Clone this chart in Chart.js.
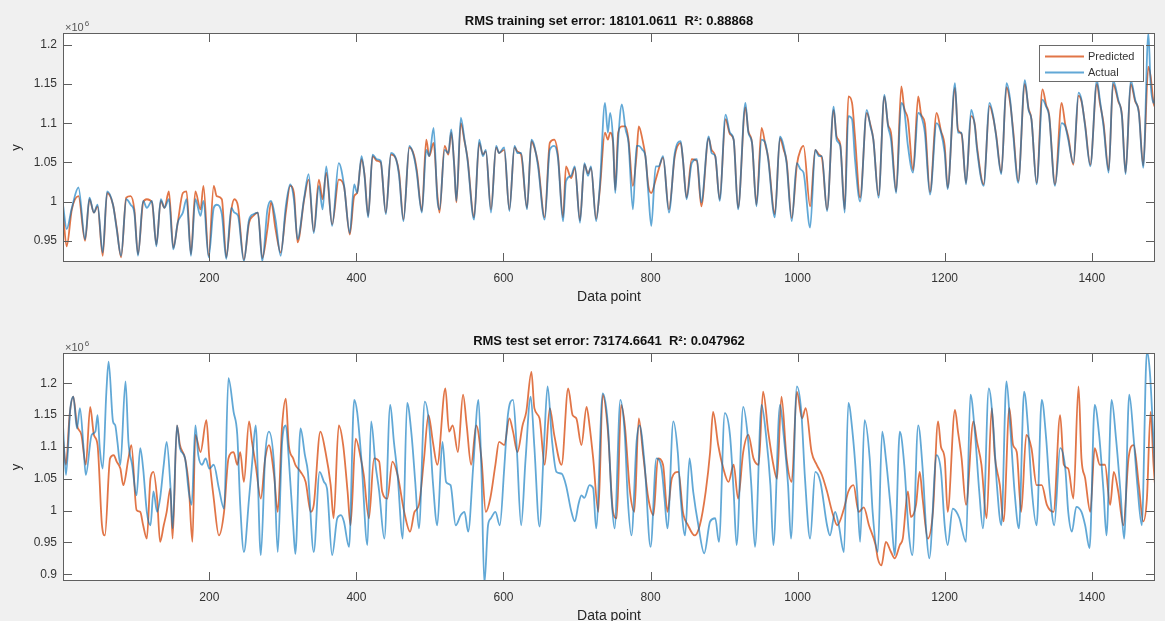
<!DOCTYPE html>
<html>
<head>
<meta charset="utf-8">
<script src="https://cdn.jsdelivr.net/npm/chart.js@4.4.1/dist/chart.umd.min.js"></script>
<style>
  html, body { margin: 0; padding: 0; }
  body { width: 1165px; height: 621px; overflow: hidden; position: relative; background: #f0f0f0; }
  canvas { position: absolute; left: 0; }
</style>
</head>
<body>
<canvas id="trainChart" width="1165" height="310" style="top:0"></canvas>
<canvas id="testChart" width="1165" height="319" style="top:310px"></canvas>
<script>
// values are in units of 10^6
const xTicks = [200, 400, 600, 800, 1000, 1200, 1400];
const trainYTicks = [0.95, 1, 1.05, 1.1, 1.15, 1.2];
const testYTicks = [0.9, 0.95, 1, 1.05, 1.1, 1.15, 1.2];

const trainX = [
  1, 6, 13, 22, 31, 37, 43, 48, 55, 61,
  69, 74, 80, 87, 93, 98, 103, 110, 115, 122,
  128, 134, 139, 145, 151, 157, 164, 169, 175, 181,
  188, 192, 199, 206, 210, 217, 223, 230, 234, 239,
  247, 254, 260, 266, 272, 279, 284, 290, 297, 304,
  310, 315, 320, 329, 335, 342, 349, 354, 359, 367,
  376, 383, 391, 397, 401, 407, 411, 416, 422, 428,
  433, 440, 447, 454, 458, 464, 472, 478, 482, 489,
  495, 499, 505, 510, 513, 520, 525, 529, 533, 536,
  542, 547, 551, 560, 567, 572, 576, 583, 590, 594,
  601, 608, 615, 619, 624, 632, 638, 642, 647, 656,
  663, 669, 674, 681, 685, 692, 697, 704, 710, 715,
  719, 726, 731, 738, 742, 745, 749, 752, 756, 761,
  766, 770, 776, 781, 784, 789, 793, 797, 801, 807,
  811, 817, 825, 833, 841, 844, 849, 856, 863, 869,
  879, 883, 888, 894, 902, 908, 913, 919, 929, 933,
  938, 944, 951, 956, 960, 969, 976, 981, 985, 992,
  999, 1004, 1008, 1017, 1024, 1029, 1033, 1040, 1049, 1053,
  1058, 1064, 1069, 1074, 1078, 1085, 1094, 1099, 1103, 1110,
  1118, 1123, 1127, 1134, 1141, 1145, 1150, 1157, 1164, 1168,
  1173, 1180, 1189, 1195, 1200, 1204, 1214, 1218, 1223, 1229,
  1236, 1241, 1244, 1253, 1261, 1266, 1270, 1277, 1284, 1289,
  1293, 1300, 1309, 1314, 1318, 1325, 1333, 1338, 1342, 1350,
  1359, 1364, 1368, 1375, 1382, 1386, 1391, 1398, 1407, 1411,
  1416, 1423, 1429, 1436, 1441, 1446, 1453, 1459, 1464, 1470,
  1477, 1480, 1484, 1486
];
const trainActual = [
  0.996, 0.965, 0.992, 1.018, 0.952, 1.005, 0.986, 0.996, 0.935, 1.013,
  0.996, 0.965, 0.931, 1.003, 0.996, 0.986, 0.931, 1.001, 0.992, 1.001,
  0.943, 1.003, 0.992, 1.003, 0.939, 0.973, 0.986, 1.003, 0.931, 1.003,
  0.982, 1.001, 0.929, 0.992, 0.996, 0.984, 0.927, 0.992, 0.986, 0.982,
  0.924, 0.977, 0.984, 0.986, 0.924, 0.990, 1.001, 0.977, 0.931, 0.994,
  1.022, 1.003, 0.952, 1.005, 1.035, 0.960, 1.020, 0.990, 1.045, 0.969,
  1.049, 1.022, 0.960, 1.022, 1.011, 1.058, 1.033, 0.980, 1.060, 1.054,
  1.052, 0.984, 1.062, 1.054, 1.033, 0.975, 1.071, 1.058, 1.037, 0.986,
  1.066, 1.058, 1.094, 1.003, 0.990, 1.066, 1.062, 1.092, 1.045, 1.001,
  1.107, 1.079, 1.054, 0.977, 1.079, 1.058, 1.066, 0.986, 1.071, 1.062,
  1.069, 0.988, 1.071, 1.062, 1.062, 0.990, 1.079, 1.071, 1.045, 0.977,
  1.066, 1.071, 1.056, 0.975, 1.026, 1.033, 1.045, 0.973, 1.049, 1.033,
  1.045, 0.975, 1.020, 1.126, 1.088, 1.113, 1.079, 1.011, 1.079, 1.124,
  1.092, 1.075, 0.990, 1.071, 1.071, 1.066, 1.058, 1.011, 0.969, 1.045,
  1.045, 1.058, 0.986, 1.062, 1.077, 1.054, 1.003, 1.049, 1.054, 0.999,
  1.083, 1.062, 1.058, 1.001, 1.111, 1.088, 1.079, 0.990, 1.126, 1.088,
  1.075, 0.994, 1.079, 1.075, 1.054, 0.980, 1.083, 1.071, 1.049, 0.975,
  1.049, 1.041, 1.037, 0.967, 1.066, 1.058, 1.058, 0.988, 1.121, 1.079,
  1.071, 0.986, 1.109, 1.105, 1.054, 1.000, 1.117, 1.096, 1.079, 1.005,
  1.136, 1.096, 1.079, 1.011, 1.126, 1.117, 1.071, 1.037, 1.113, 1.109,
  1.088, 1.009, 1.100, 1.088, 1.062, 1.016, 1.151, 1.088, 1.088, 1.022,
  1.117, 1.096, 1.066, 1.020, 1.126, 1.109, 1.083, 1.035, 1.151, 1.130,
  1.088, 1.024, 1.155, 1.117, 1.105, 1.022, 1.130, 1.121, 1.109, 1.020,
  1.100, 1.096, 1.079, 1.049, 1.139, 1.130, 1.096, 1.045, 1.155, 1.130,
  1.096, 1.037, 1.155, 1.130, 1.109, 1.035, 1.155, 1.130, 1.113, 1.043,
  1.215, 1.151, 1.126, 1.135
];
const trainPredicted = [
  0.986, 0.943, 0.990, 1.007, 0.950, 1.003, 0.986, 0.994, 0.931, 1.011,
  0.996, 0.967, 0.929, 1.005, 1.007, 0.990, 0.933, 0.999, 1.003, 0.999,
  0.945, 1.001, 0.992, 1.013, 0.941, 0.973, 1.011, 1.013, 0.933, 1.013,
  0.990, 1.020, 0.931, 1.020, 1.007, 1.003, 0.929, 0.990, 1.003, 0.994,
  0.926, 0.973, 0.982, 0.986, 0.928, 0.965, 0.999, 0.965, 0.935, 0.986,
  1.020, 1.011, 0.948, 1.003, 1.028, 0.962, 1.028, 1.003, 1.037, 0.971,
  1.028, 1.020, 0.958, 1.007, 1.011, 1.054, 1.035, 0.982, 1.058, 1.052,
  1.050, 0.986, 1.060, 1.054, 1.037, 0.977, 1.069, 1.060, 1.041, 0.988,
  1.079, 1.058, 1.075, 1.010, 0.986, 1.071, 1.060, 1.088, 1.047, 0.999,
  1.100, 1.077, 1.056, 0.980, 1.075, 1.060, 1.064, 0.990, 1.069, 1.062,
  1.066, 0.990, 1.069, 1.064, 1.060, 0.992, 1.077, 1.069, 1.049, 0.980,
  1.075, 1.079, 1.060, 0.980, 1.045, 1.030, 1.043, 0.976, 1.047, 1.036,
  1.043, 0.978, 1.015, 1.088, 1.079, 1.088, 1.075, 1.015, 1.088, 1.096,
  1.096, 1.079, 1.020, 1.060, 1.096, 1.079, 1.058, 1.020, 1.011, 1.028,
  1.041, 1.056, 0.990, 1.058, 1.075, 1.054, 1.005, 1.054, 1.052, 0.994,
  1.081, 1.066, 1.058, 1.003, 1.105, 1.086, 1.079, 0.992, 1.120, 1.090,
  1.075, 0.996, 1.094, 1.073, 1.056, 0.984, 1.081, 1.066, 1.052, 0.979,
  1.047, 1.066, 1.071, 0.994, 1.066, 1.060, 1.056, 0.990, 1.117, 1.083,
  1.073, 0.990, 1.134, 1.126, 1.083, 1.005, 1.113, 1.098, 1.079, 1.008,
  1.134, 1.098, 1.088, 1.013, 1.147, 1.119, 1.105, 1.040, 1.134, 1.111,
  1.100, 1.012, 1.113, 1.090, 1.071, 1.018, 1.145, 1.092, 1.086, 1.024,
  1.109, 1.098, 1.070, 1.022, 1.122, 1.107, 1.085, 1.037, 1.146, 1.126,
  1.092, 1.026, 1.150, 1.119, 1.105, 1.024, 1.143, 1.123, 1.111, 1.022,
  1.126, 1.098, 1.083, 1.047, 1.135, 1.128, 1.098, 1.047, 1.150, 1.126,
  1.100, 1.040, 1.150, 1.128, 1.111, 1.037, 1.150, 1.128, 1.115, 1.046,
  1.172, 1.160, 1.126, 1.120
];

const testActualX = [
  1, 5, 11, 15, 20, 24, 29, 32, 40, 45,
  48, 51, 55, 60, 63, 69, 72, 75, 79, 86,
  90, 95, 101, 106, 110, 115, 120, 124, 129, 133,
  138, 142, 147, 150, 156, 160, 167, 172, 176, 181,
  185, 190, 195, 200, 206, 213, 220, 226, 233, 238,
  242, 247, 254, 258, 263, 270, 276, 281, 288, 293,
  299, 304, 308, 314, 317, 324, 330, 334, 342, 350,
  356, 360, 367, 374, 379, 383, 390, 397, 401, 407,
  415, 420, 426, 431, 438, 446, 451, 456, 463, 469,
  475, 480, 485, 493, 499, 504, 510, 517, 522, 528,
  535, 542, 547, 552, 559, 566, 570, 574, 579, 583,
  589, 595, 601, 606, 613, 618, 624, 630, 637, 642,
  649, 655, 660, 666, 672, 679, 685, 692, 697, 702,
  706, 710, 717, 722, 726, 735, 742, 747, 751, 759,
  765, 769, 774, 781, 785, 792, 800, 808, 815, 819,
  823, 831, 837, 841, 847, 853, 858, 865, 873, 881,
  888, 893, 901, 908, 913, 917, 926, 932, 937, 942,
  951, 957, 963, 967, 976, 981, 987, 991, 999, 1005,
  1010, 1017, 1024, 1031, 1040, 1044, 1051, 1056, 1063, 1069,
  1075, 1081, 1085, 1091, 1098, 1102, 1109, 1115, 1120, 1127,
  1132, 1139, 1145, 1151, 1156, 1164, 1170, 1175, 1179, 1189,
  1195, 1200, 1204, 1211, 1216, 1220, 1229, 1235, 1241, 1247,
  1252, 1260, 1266, 1271, 1277, 1284, 1289, 1295, 1301, 1308,
  1314, 1318, 1325, 1332, 1338, 1343, 1349, 1357, 1364, 1368,
  1373, 1379, 1386, 1391, 1397, 1404, 1410, 1416, 1420, 1427,
  1433, 1439, 1444, 1451, 1457, 1462, 1468, 1475, 1479, 1484,
  1486
];
const testActual = [
  1.134, 1.056, 1.161, 1.179, 1.129, 1.161, 1.098, 1.056, 1.119, 1.124,
  1.150, 1.098, 1.066, 1.187, 1.234, 1.140, 1.134, 1.108, 1.072, 1.203,
  1.108, 1.072, 1.024, 1.098, 1.066, 0.998, 0.977, 1.030, 0.998, 1.019,
  1.072, 1.108, 1.040, 0.972, 1.134, 1.098, 1.082, 1.030, 1.009, 1.134,
  1.087, 1.072, 1.082, 1.066, 1.072, 1.035, 1.003, 1.208, 1.155, 1.119,
  1.009, 0.935, 1.019, 1.072, 1.134, 0.930, 1.087, 1.124, 1.072, 0.935,
  1.108, 1.134, 1.082, 0.977, 0.932, 1.129, 1.087, 1.061, 0.935, 1.061,
  1.045, 1.035, 0.930, 0.988, 0.993, 0.983, 0.943, 1.174, 1.155, 1.077,
  0.946, 1.140, 1.072, 1.030, 0.956, 1.166, 1.108, 1.056, 0.956, 1.169,
  1.119, 1.045, 0.972, 1.171, 1.134, 1.045, 0.977, 1.108, 1.045, 1.040,
  0.977, 0.993, 0.998, 0.967, 1.072, 1.174, 1.061, 0.885, 0.977, 0.988,
  0.998, 0.977, 1.066, 1.150, 1.174, 1.100, 0.977, 1.080, 1.179, 1.100,
  0.975, 1.100, 1.195, 1.110, 1.061, 1.058, 1.040, 1.000, 0.983, 1.010,
  1.024, 1.020, 1.040, 1.035, 0.972, 1.184, 1.134, 1.019, 0.972, 1.174,
  1.119, 1.019, 0.961, 1.108, 1.134, 1.072, 0.943, 1.082, 1.066, 1.019,
  0.972, 1.140, 1.092, 1.019, 0.961, 1.082, 1.030, 0.977, 0.933, 0.983,
  0.988, 0.951, 1.153, 1.119, 1.030, 0.946, 1.163, 1.119, 1.040, 0.943,
  1.166, 1.119, 1.040, 0.946, 1.166, 1.119, 1.040, 0.956, 1.195, 1.155,
  1.051, 0.956, 1.061, 1.045, 0.977, 0.961, 0.998, 0.977, 0.935, 1.169,
  1.119, 1.030, 0.951, 1.142, 1.082, 0.998, 0.935, 1.124, 1.082, 0.998,
  0.930, 1.124, 1.072, 0.967, 0.930, 1.134, 1.066, 0.967, 0.925, 1.087,
  1.061, 0.977, 0.946, 1.003, 0.998, 0.988, 0.951, 1.182, 1.124, 1.030,
  0.972, 1.192, 1.134, 1.040, 0.977, 1.203, 1.134, 1.030, 0.972, 1.187,
  1.119, 1.040, 0.977, 1.174, 1.113, 1.030, 0.977, 1.098, 1.066, 0.998,
  0.967, 1.006, 0.998, 0.977, 0.941, 1.166, 1.119, 1.030, 0.961, 1.174,
  1.113, 1.030, 0.956, 1.182, 1.113, 1.040, 0.977, 1.250, 1.218, 1.108,
  1.060
];

const testPredictedX = [
  1, 5, 10, 15, 20, 26, 32, 38, 43, 48,
  54, 58, 65, 70, 74, 79, 83, 90, 94, 101,
  106, 110, 115, 120, 124, 129, 133, 138, 142, 147,
  150, 156, 160, 167, 172, 177, 181, 188, 196, 200,
  206, 213, 220, 226, 233, 238, 242, 247, 254, 258,
  263, 270, 276, 281, 288, 293, 299, 304, 308, 314,
  317, 324, 331, 338, 342, 351, 358, 365, 369, 376,
  382, 388, 392, 399, 406, 410, 417, 424, 431, 435,
  442, 449, 456, 465, 473, 479, 485, 492, 498, 504,
  510, 521, 526, 531, 538, 545, 550, 556, 563, 570,
  576, 582, 589, 594, 601, 608, 613, 619, 626, 631,
  638, 642, 649, 656, 663, 669, 679, 688, 694, 699,
  706, 713, 717, 722, 729, 735, 742, 749, 754, 760,
  765, 772, 778, 784, 790, 797, 804, 810, 817, 823,
  829, 838, 844, 851, 860, 867, 875, 881, 885, 892,
  899, 906, 913, 919, 926, 933, 940, 947, 953, 960,
  967, 972, 978, 985, 992, 999, 1006, 1011, 1019, 1026,
  1033, 1040, 1047, 1054, 1063, 1069, 1076, 1083, 1090, 1097,
  1106, 1109, 1114, 1120, 1127, 1132, 1139, 1143, 1150, 1154,
  1161, 1166, 1170, 1177, 1184, 1191, 1195, 1200, 1204, 1214,
  1218, 1223, 1229, 1239, 1244, 1250, 1257, 1264, 1268, 1275,
  1280, 1288, 1293, 1298, 1304, 1311, 1318, 1325, 1332, 1339,
  1348, 1357, 1362, 1368, 1375, 1382, 1386, 1391, 1398, 1404,
  1411, 1418, 1425, 1430, 1436, 1443, 1450, 1457, 1464, 1470,
  1475, 1480, 1484, 1486
];
const testPredicted = [
  1.113, 1.072, 1.150, 1.179, 1.134, 1.119, 1.072, 1.163, 1.119, 1.103,
  0.977, 0.961, 1.082, 1.087, 1.077, 1.066, 1.040, 1.082, 1.103, 1.001,
  0.998, 0.977, 0.956, 1.051, 1.061, 1.019, 0.951, 0.977, 0.998, 1.035,
  0.956, 1.134, 1.103, 1.082, 1.040, 0.951, 1.119, 1.092, 1.142, 1.082,
  1.019, 0.961, 0.998, 1.082, 1.092, 1.072, 1.092, 1.045, 1.140, 1.108,
  1.072, 1.019, 1.082, 1.103, 1.056, 0.998, 1.134, 1.176, 1.103, 1.082,
  1.072, 1.061, 1.045, 0.998, 1.009, 1.124, 1.092, 1.040, 0.988, 1.134,
  1.103, 1.030, 0.977, 1.113, 1.082, 1.056, 0.988, 1.082, 1.077, 1.030,
  1.019, 1.077, 1.056, 0.998, 0.967, 0.998, 1.009, 1.082, 1.150, 1.108,
  1.072, 1.192, 1.124, 1.134, 1.092, 1.182, 1.134, 1.072, 1.134, 1.082,
  0.998, 1.019, 1.072, 1.108, 1.103, 1.145, 1.124, 1.092, 1.134, 1.155,
  1.218, 1.161, 1.145, 1.072, 1.161, 1.119, 1.072, 1.192, 1.150, 1.145,
  1.103, 1.163, 1.134, 1.082, 0.998, 1.182, 1.125, 0.998, 0.988, 1.166,
  1.134, 1.030, 0.998, 1.145, 1.087, 1.019, 0.993, 1.082, 1.072, 0.998,
  1.051, 1.061, 0.998, 0.977, 0.961, 0.977, 1.030, 1.092, 1.155, 1.103,
  1.066, 1.045, 1.072, 1.019, 1.092, 1.119, 1.082, 1.072, 1.187, 1.124,
  1.072, 1.050, 1.179, 1.082, 1.045, 1.187, 1.145, 1.161, 1.092, 1.072,
  1.056, 1.030, 0.998, 0.977, 1.003, 1.030, 1.040, 0.998, 1.005, 0.977,
  0.946, 0.925, 0.914, 0.951, 0.935, 0.925, 0.946, 0.956, 1.030, 0.990,
  1.009, 1.061, 1.019, 0.956, 0.998, 1.140, 1.100, 1.082, 0.998, 1.158,
  1.125, 1.082, 1.009, 1.140, 1.108, 1.072, 0.988, 1.161, 1.087, 1.040,
  0.983, 1.161, 1.103, 1.092, 0.998, 1.119, 1.098, 1.040, 1.040, 1.009,
  0.998, 1.150, 1.072, 1.066, 1.019, 1.195, 1.082, 1.051, 0.998, 1.098,
  1.072, 1.072, 1.009, 1.061, 1.030, 0.977, 1.082, 1.103, 1.040, 0.983,
  1.019, 1.155, 1.072, 1.040
];

const FONT = '"Liberation Sans", Arial, Helvetica, sans-serif';
const TEXT = '#333333';
const ORANGE = 'rgba(217, 83, 25, 0.8)';
const BLUE = 'rgba(0, 114, 189, 0.62)';

const toPoints = (xs, ys) => xs.map((x, i) => ({ x, y: ys[i] }));

// MATLAB-like axes box: white area, frame, inward ticks, title, exponent, legend
const figureAxes = {
    id: 'figureAxes',
    beforeDraw(chart) {
        const { ctx, chartArea: a } = chart;
        ctx.save();
        ctx.fillStyle = '#ffffff';
        ctx.fillRect(a.left, a.top, a.width, a.height);
        ctx.restore();
    },
    afterDraw(chart, args, opts) {
        const { ctx, chartArea: a, scales: { x, y } } = chart;
        ctx.save();
        ctx.strokeStyle = '#5f5f5f';
        ctx.lineWidth = 1;
        ctx.strokeRect(a.left + 0.5, a.top + 0.5, a.width - 1, a.height - 1);

        ctx.beginPath();
        for (const t of x.ticks) {
            const px = Math.round(x.getPixelForValue(t.value)) + 0.5;
            ctx.moveTo(px, a.top); ctx.lineTo(px, a.top + 9);
            ctx.moveTo(px, a.bottom); ctx.lineTo(px, a.bottom - 9);
        }
        for (const t of y.ticks) {
            const py = Math.round(y.getPixelForValue(t.value)) + 0.5;
            ctx.moveTo(a.left, py); ctx.lineTo(a.left + 9, py);
            ctx.moveTo(a.right, py); ctx.lineTo(a.right - 9, py);
        }
        ctx.stroke();

        // title
        ctx.fillStyle = '#111111';
        ctx.font = 'bold 13px ' + FONT;
        ctx.textAlign = 'center';
        ctx.textBaseline = 'middle';
        ctx.fillText(opts.title, (a.left + a.right) / 2, a.top - opts.titleGap);

        // x10^6 exponent
        ctx.fillStyle = '#555555';
        ctx.textAlign = 'left';
        ctx.textBaseline = 'alphabetic';
        ctx.font = '11px ' + FONT;
        ctx.fillText('\u00d710', a.left + 2, a.top - 2);
        const w = ctx.measureText('\u00d710').width;
        ctx.font = '8px ' + FONT;
        ctx.fillText('6', a.left + 2 + w + 1, a.top - 7);

        if (opts.legend) {
            const bx = a.right - 116, by = a.top + 12, bw = 105, bh = 37;
            ctx.fillStyle = '#ffffff';
            ctx.fillRect(bx, by, bw, bh);
            ctx.strokeStyle = '#6a6a6a';
            ctx.strokeRect(bx + 0.5, by + 0.5, bw - 1, bh - 1);
            ctx.font = '11px ' + FONT;
            ctx.textBaseline = 'middle';
            chart.data.datasets.forEach((ds, i) => {
                const ly = by + 11.5 + i * 16;
                ctx.strokeStyle = ds.borderColor;
                ctx.lineWidth = 1.8;
                ctx.beginPath();
                ctx.moveTo(bx + 6, ly); ctx.lineTo(bx + 45, ly);
                ctx.stroke();
                ctx.fillStyle = '#333333';
                ctx.fillText(ds.label, bx + 49, ly);
            });
        }
        ctx.restore();
    }
};

function buildChart(canvasId, spec) {
    return new Chart(document.getElementById(canvasId), {
        type: 'line',
        data: {
            datasets: [
                { label: 'Predicted', data: spec.predicted, borderColor: ORANGE, order: 2 },
                { label: 'Actual', data: spec.actual, borderColor: BLUE, order: 1 }
            ]
        },
        options: {
            responsive: false,
            animation: false,
            clip: 0,
            elements: {
                point: { radius: 0 },
                line: { borderWidth: 1.8, cubicInterpolationMode: 'monotone' }
            },
            layout: { padding: { left: 0, right: 10, top: spec.padTop, bottom: 0 } },
            plugins: {
                legend: { display: false },
                tooltip: { enabled: false },
                figureAxes: { title: spec.title, titleGap: 12, legend: spec.legend }
            },
            scales: {
                x: {
                    type: 'linear',
                    min: 1,
                    max: 1486,
                    afterBuildTicks: s => { s.ticks = xTicks.map(v => ({ value: v })); },
                    afterFit: s => { s.height = 48; },
                    grid: { display: false, drawTicks: false },
                    border: { display: false },
                    ticks: { padding: 9, color: TEXT, font: { family: FONT, size: 12 }, maxRotation: 0,
                             callback: v => String(v) },
                    title: { display: true, text: 'Data point', color: '#262626',
                             font: { family: FONT, size: 14 }, padding: { top: 0, bottom: 4 } }
                },
                y: {
                    min: spec.yMin,
                    max: spec.yMax,
                    afterBuildTicks: s => { s.ticks = spec.yTicks.map(v => ({ value: v })); },
                    afterFit: s => { s.width = 63; },
                    grid: { display: false, drawTicks: false },
                    border: { display: false },
                    ticks: { padding: 6, color: TEXT, font: { family: FONT, size: 12 },
                             callback: v => String(Number(v.toFixed(2))) },
                    title: { display: true, text: 'y', color: '#262626',
                             font: { family: FONT, size: 13 }, padding: { top: 9, bottom: 0 } }
                }
            }
        },
        plugins: [figureAxes]
    });
}

buildChart('trainChart', {
    title: 'RMS training set error: 18101.0611  R\u00b2: 0.88868',
    actual: toPoints(trainX, trainActual),
    predicted: toPoints(trainX, trainPredicted),
    yMin: 0.923, yMax: 1.215, yTicks: trainYTicks,
    padTop: 33, legend: true
});

buildChart('testChart', {
    title: 'RMS test set error: 73174.6641  R\u00b2: 0.047962',
    actual: toPoints(testActualX, testActual),
    predicted: toPoints(testPredictedX, testPredicted),
    yMin: 0.8895, yMax: 1.2475, yTicks: testYTicks,
    padTop: 43, legend: false
});
</script>
</body>
</html>
